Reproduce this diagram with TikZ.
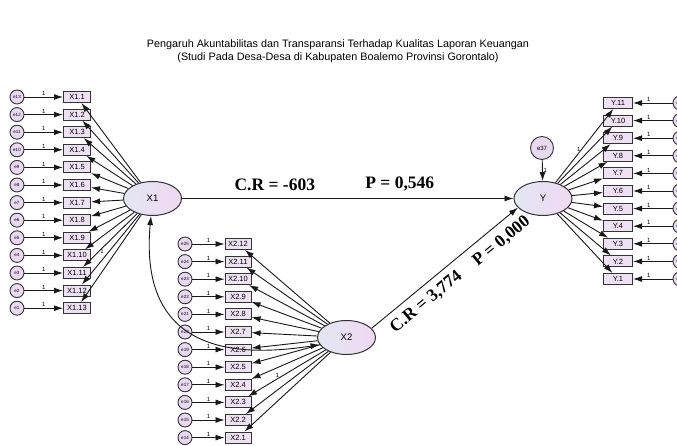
\documentclass[tikz,border=0pt]{standalone}
\usepackage{fontspec}
\setmainfont{Liberation Serif}
\setsansfont{Liberation Sans}
\usetikzlibrary{shapes.geometric,arrows.meta}

\definecolor{inkline}{HTML}{333333}
\definecolor{boxfill}{HTML}{EEE1F3}
\definecolor{errfill}{HTML}{E8D9F1}
\definecolor{latleft}{HTML}{E3E7F3}
\definecolor{latright}{HTML}{F0D8F3}

\tikzset{
  obsbox/.style={draw=inkline, line width=1pt, fill=boxfill, minimum width=27pt,
    minimum height=11pt, inner sep=0pt, font=\sffamily\fontsize{7.5}{7.5}\selectfont},
  errnode/.style={circle, draw=inkline, line width=0.9pt, fill=errfill, minimum size=14pt,
    inner sep=0pt, font=\sffamily\fontsize{4.5}{4.5}\selectfont},
  latent/.style={ellipse, draw=inkline, line width=1pt, left color=latleft,
    right color=latright, minimum width=58pt, minimum height=34pt, inner sep=0pt,
    font=\sffamily\fontsize{9.5}{9.5}\selectfont},
  reg/.style={draw=black!90, line width=0.9pt, -{Latex[length=9pt,width=6pt]}},
  cov/.style={draw=black!90, line width=0.9pt,
    {Latex[length=9pt,width=6pt]}-{Latex[length=9pt,width=6pt]}},
  one/.style={font=\sffamily\fontsize{6}{6}\selectfont, inner sep=0.8pt},
  crlabel/.style={font=\bfseries\fontsize{17.5}{17.5}\selectfont, inner sep=2pt},
}

\begin{document}
\begin{tikzpicture}[x=1pt,y=-1pt]
\clip (0,0) rectangle (677,446);
\fill[white] (0,0) rectangle (677,446);

% title
\node[font=\sffamily\fontsize{10.8}{13}\selectfont, align=center] (title) at (338,51)
  {Pengaruh Akuntabilitas dan Transparansi Terhadap Kualitas Laporan Keuangan\\
   (Studi Pada Desa-Desa di Kabupaten Boalemo Provinsi Gorontalo)};

% latent variables
\node[latent] (X1) at (152.5,198.5) {X1};
\node[latent] (X2) at (346.5,337.5) {X2};
\node[latent] (Y)  at (543,198.5) {Y};
\node[errnode, minimum size=23pt, font=\sffamily\fontsize{6}{6}\selectfont] (e37) at (542,148) {e37};

% indicators of X1
\foreach \i [evaluate=\i as \yy using 97+17.6*(\i-1), evaluate=\i as \e using int(14-\i)] in {1,...,13} {
  \node[obsbox] (a\i) at (77,\yy) {X1.\i};
  \node[errnode] (ea\i) at (17,\yy) {e\e};
}
% indicators of X2
\foreach \i [evaluate=\i as \yy using 244+17.6*(12-\i), evaluate=\i as \e using int(13+\i)] in {1,...,12} {
  \node[obsbox, minimum width=26pt] (b\i) at (238,\yy) {X2.\i};
  \node[errnode] (eb\i) at (185,\yy) {e\e};
}
% indicators of Y
\foreach \i [evaluate=\i as \yy using 103+17.6*(11-\i), evaluate=\i as \e using int(37-\i)] in {1,...,11} {
  \node[obsbox, minimum width=29pt] (c\i) at (618,\yy) {Y.\i};
  \node[errnode] (ec\i) at (680,\yy) {e\e};
}

% error terms
\foreach \i in {1,...,13} \draw[reg] (ea\i) -- node[one, above] {1} (a\i);
\foreach \i in {1,...,12} \draw[reg] (eb\i) -- node[one, above] {1} (b\i);
\foreach \i in {1,...,11} \draw[reg] (ec\i) -- node[one, above, pos=0.6] {1} (c\i);
\draw[reg] (e37) -- node[one, right] {1} (Y);

% loadings
\foreach \i in {1,...,13} \draw[reg] (X1) -- (a\i);
\foreach \i in {1,...,12} \draw[reg] (X2) -- (b\i);
\foreach \i in {1,...,11} \draw[reg] (Y) -- (c\i);
\path (X1) -- node[one, pos=0.7, right] {1} (a11);
\path (X2) -- node[one, pos=0.62, above] {1} (b3);
\path (Y) -- node[one, pos=0.45, left] {1} (c11);

% covariance between the exogenous constructs
\draw[cov] (X1.265) .. controls (140,335) and (210,362) .. (X2.195);

% structural paths
\draw[reg] (X1) -- node[crlabel, pos=0.28, above=5pt] {C.R = -603}
                   node[crlabel, pos=0.657, above=5pt] {P = 0,546} (Y);
\draw[reg] (X2.20) -- node[crlabel, pos=0.31, sloped, below=5pt] {C.R = 3,774}
                      node[crlabel, pos=0.82, sloped, below=6pt] {P = 0,000} (Y.200);
\end{tikzpicture}
\end{document}
